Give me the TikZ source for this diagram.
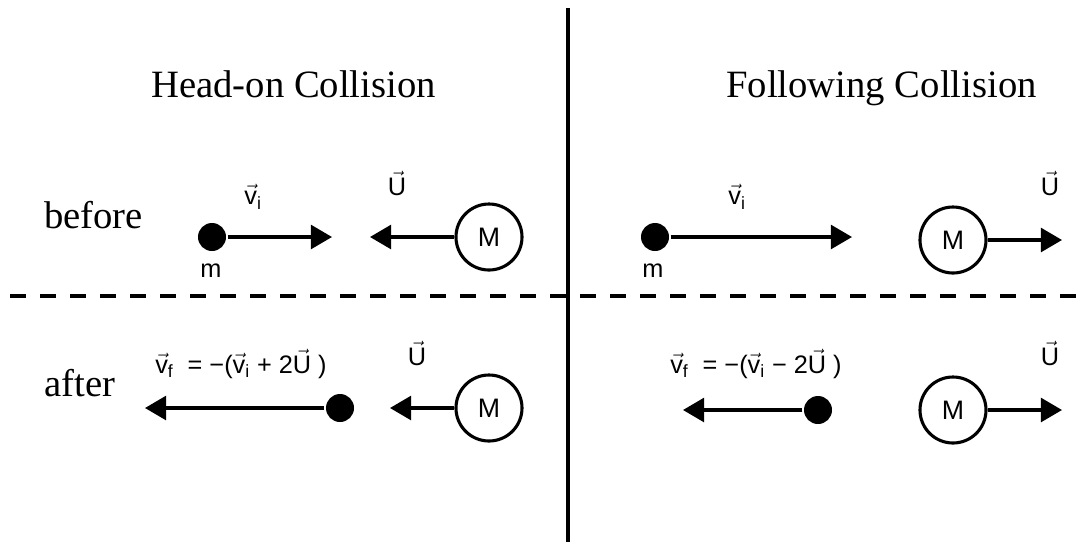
\documentclass[tikz,border=0pt]{standalone}
\usepackage{amsmath}
\usepackage{fontspec}
\setmainfont{Liberation Serif}
\setsansfont{Liberation Sans}
\usetikzlibrary{arrows.meta}
\newcommand{\vv}[1]{$\vec{\textsf{#1}}$}
\newcommand{\vsub}[2]{$\vec{\textsf{#1}}_{\textsf{#2}}$}

\begin{document}
\begin{tikzpicture}[x=0.025cm,y=-0.025cm,line width=2.2pt,
  ball/.style={circle,fill=black,inner sep=0pt,minimum size=0.7cm},
  mass/.style={circle,draw,line width=2.2pt,inner sep=0pt,minimum size=1.65cm,font=\sffamily\fontsize{19}{22}\selectfont},
  vel/.style={-{Triangle[length=0.53cm,width=0.6cm]}},
  lab/.style={font=\sffamily\fontsize{18}{21}\selectfont},
  head/.style={font=\fontsize{27.5}{32}\selectfont,anchor=base west}]
\useasboundingbox (0,0) rectangle (1081,542);
\draw (568,8) -- (568,542);
\draw[dash pattern=on 0.4cm off 0.35cm,line width=2.6pt] (10,296) -- (1081,296);
\node[head] (hhead) at (145,97) {Head-on Collision};
\node[head] (fhead) at (720,97) {Following Collision};
\node[head] (before) at (38,228) {before};
\node[head] (after) at (38,396) {after};

\node[ball] (m1) at (212,237) {};
\node[mass] (M1) at (489,237) {M};
\coordinate (v1) at (332,237);
\coordinate (u1) at (370,237);
\draw[vel] (m1) -- (v1);
\draw[vel] (M1) -- (u1);
\node[lab] (m1l) at (211,271) {m};
\node[lab] (v1l) at (253,197) {\vsub{v}{i}};
\node[lab] (u1l) at (397,183) {\vv{U}};

\node[ball] (m2) at (655,237) {};
\node[mass] (M2) at (953,240) {M};
\coordinate (v2) at (852,237);
\coordinate (u2) at (1062,240);
\draw[vel] (m2) -- (v2);
\draw[vel] (M2) -- (u2);
\node[lab] (m2l) at (653,271) {m};
\node[lab] (v2l) at (737,197) {\vsub{v}{i}};
\node[lab] (u2l) at (1050,183) {\vv{U}};

\node[ball] (m3) at (340,408) {};
\node[mass] (M3) at (489,408) {M};
\coordinate (v3) at (145,408);
\coordinate (u3) at (390,408);
\draw[vel] (m3) -- (v3);
\draw[vel] (M3) -- (u3);
\node[lab] (v3l) at (241,364) {\vsub{v}{f}\ \ = −(\vsub{v}{i} + 2\vv{U}\ )};
\node[lab] (u3l) at (417,353) {\vv{U}};

\node[ball] (m4) at (818,410) {};
\node[mass] (M4) at (953,410) {M};
\coordinate (v4) at (683,410);
\coordinate (u4) at (1062,410);
\draw[vel] (m4) -- (v4);
\draw[vel] (M4) -- (u4);
\node[lab] (v4l) at (756,364) {\vsub{v}{f}\ \ = −(\vsub{v}{i} − 2\vv{U}\ )};
\node[lab] (u4l) at (1050,353) {\vv{U}};
\end{tikzpicture}
\end{document}
